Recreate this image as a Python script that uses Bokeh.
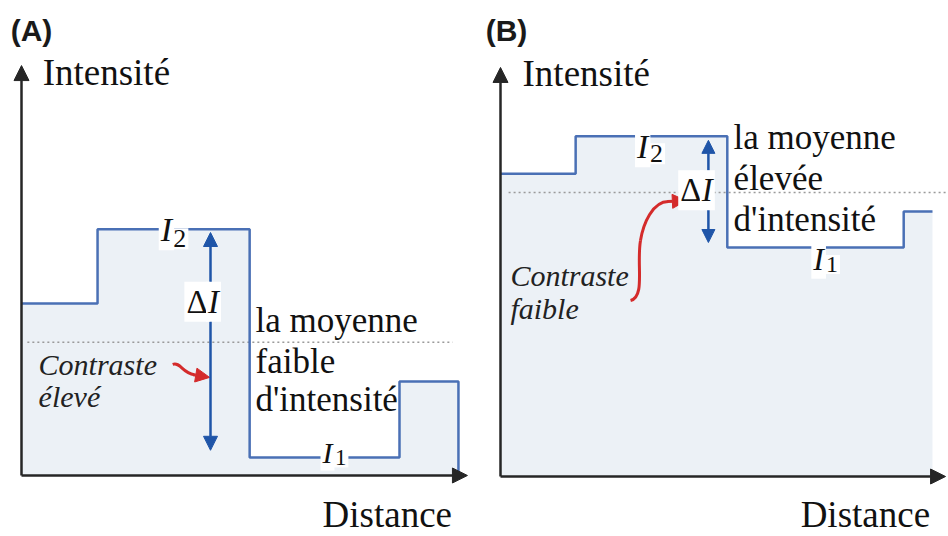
from bokeh.plotting import figure
from bokeh.models import Range1d, Label, Arrow, NormalHead
from bokeh.layouts import row
from bokeh.embed import file_html
from bokeh.resources import INLINE

# ---------------- data (intensity profiles, arbitrary units) ----------------
# Panel A : strong contrast, low mean intensity
a_edges = [0, 16.9, 50.7, 84.0, 97.1]     # distance where each plateau starts / ends
a_levels = [38.2, 54.7, 4.0, 20.9]        # intensity of each plateau
a_mean = 29.6                              # mean intensity (dotted line)
a_lines = ["la moyenne", "faible", "d'intensité"]
a_contrast = ["Contraste", "élevé"]

# Panel B : weak contrast, high mean intensity
b_edges = [0, 16.7, 50.4, 89.6, 96.0]
b_levels = [67.3, 75.6, 50.9, 58.9]
b_mean = 63.1
b_lines = ["la moyenne", "élevée", "d'intensité"]
b_contrast = ["Contraste", "faible"]

y_label = "Intensité"
x_label = "Distance"

# ---------------- styles ----------------
SERIF = "Liberation Serif"
SANS = "Liberation Sans"
FILL = "#ecf1f6"
STEP = "#4a70b5"
DBLUE = "#1f55a8"
RED = "#d42b2b"
AXIS = "#262626"
TXT = "#111111"


def lab(p, x, y, text, size, font=SERIF, style="normal", align="left",
        color=TXT, bg=None):
    kw = {}
    if bg is not None:
        kw = dict(background_fill_color=bg, padding=2)
    p.add_layout(Label(x=x, y=y, text=text, text_font=font,
                       text_font_size=f"{size}px", text_font_style=style,
                       text_align=align, text_baseline="middle",
                       text_color=color, **kw))


def base_panel(xr, yr, x_tip, y_tip):
    p = figure(width=474, height=536, output_backend="svg", toolbar_location=None,
               title=None, x_range=Range1d(*xr), y_range=Range1d(*yr),
               x_axis_location=None, y_axis_location=None, min_border=0)
    p.grid.visible = False
    p.outline_line_color = None
    p.background_fill_color = "white"
    p.border_fill_color = "white"
    # axes drawn as arrows starting from the origin
    p.add_layout(Arrow(x_start=0, y_start=0, x_end=0, y_end=y_tip,
                       line_color=AXIS, line_width=2.5,
                       end=NormalHead(size=15, fill_color=AXIS, line_color=AXIS)))
    p.add_layout(Arrow(x_start=0, y_start=0, x_end=x_tip, y_end=0,
                       line_color=AXIS, line_width=2.5,
                       end=NormalHead(size=15, fill_color=AXIS, line_color=AXIS)))
    return p


def profile(p, edges, levels, mean, mean_span, drop_to_axis):
    ext = list(levels) + [levels[-1]]
    p.varea_step(x=edges, y1=[0] * len(edges), y2=ext, step_mode="after",
                 fill_color=FILL)
    p.line(x=mean_span, y=[mean, mean], line_color="#9a9a9a", line_width=1.6,
           line_dash="2 3")
    xs = list(edges)
    ys = ext
    if drop_to_axis:
        xs = xs + [edges[-1]]
        ys = ys + [0]
    p.step(x=xs, y=ys, mode="after", line_color=STEP, line_width=2.5)


def sub_label(p, x, y, main, sub, size, sub_size, dx, ysub):
    lab(p, x, y, main, size, style="italic", align="center", bg="white")
    lab(p, x + dx, ysub, sub, sub_size, align="left", bg="white")


def delta_label(p, x, y, size):
    lab(p, x, y, "Δ", size, align="right", bg="white")
    lab(p, x - 0.8, y, "I", size, style="italic", align="left", bg="white")


# ---------------- Panel A ----------------
pA = base_panel((-4.667, 100.667), (-13.56, 105.56), 99.1, 91.1)
profile(pA, a_edges, a_levels, a_mean, [1.3, 95.8], True)
# red arrow (contraste élevé)
pA.bezier(x0=[33.6], y0=[24.7], x1=[38.4], y1=[22.4],
          cx0=[35.3], cy0=[25.3], cx1=[35.8], cy1=[22.7],
          line_color=RED, line_width=3)
pA.add_layout(Arrow(x_start=38.2, y_start=22.4, x_end=41.8, y_end=21.8,
                    line_color=RED, line_width=3,
                    end=NormalHead(size=14, fill_color=RED, line_color=RED)))
# delta-I double arrow
pA.add_layout(Arrow(x_start=42, y_start=5.6, x_end=42, y_end=54.0,
                    line_color=DBLUE, line_width=2.5,
                    start=NormalHead(size=14, fill_color=DBLUE, line_color=DBLUE),
                    end=NormalHead(size=14, fill_color=DBLUE, line_color=DBLUE)))
delta_label(pA, 41.8, 38.6, 33)
sub_label(pA, 32.2, 54.6, "I", "2", 34, 26, 1.1, 52.6)
sub_label(pA, 68.0, 5.2, "I", "1", 30, 23, 1.2, 3.9)
for i, t in enumerate(a_lines):
    lab(pA, 52, [34.4, 25.4, 16.8][i], t, 35)
for i, t in enumerate(a_contrast):
    lab(pA, 3.8, [24.7, 17.6][i], t, 30, style="italic", color="#222222")
lab(pA, 4.7, 89.6, y_label, 37)
lab(pA, 66.9, -8.7, x_label, 37)
lab(pA, -2.4, 98.9, "(A)", 30, font=SANS, style="bold", color="#1a1a1a")

# ---------------- Panel B ----------------
pB = base_panel((-5.778, 99.556), (-13.33, 105.78), 98.9, 90.9)
profile(pB, b_edges, b_levels, b_mean, [1.8, 99.6], False)
pB.bezier(x0=[28.9, 31.1], y0=[39.1, 52.4], x1=[31.1, 37.3], y1=[52.4, 61.1],
          cx0=[32.2, 31.7], cy0=[40.0, 56.2], cx1=[30.2, 33.8], cy1=[46.9, 61.1],
          line_color=RED, line_width=3)
pB.add_layout(Arrow(x_start=37.1, y_start=61.1, x_end=41.3, y_end=61.3,
                    line_color=RED, line_width=3,
                    end=NormalHead(size=14, fill_color=RED, line_color=RED)))
pB.add_layout(Arrow(x_start=46.2, y_start=68.0, x_end=46.2, y_end=74.7,
                    line_color=DBLUE, line_width=2.5,
                    end=NormalHead(size=13, fill_color=DBLUE, line_color=DBLUE)))
pB.add_layout(Arrow(x_start=46.2, y_start=59.6, x_end=46.2, y_end=52.0,
                    line_color=DBLUE, line_width=2.5,
                    end=NormalHead(size=13, fill_color=DBLUE, line_color=DBLUE)))
delta_label(pB, 45.1, 63.6, 33)
sub_label(pB, 31.6, 73.3, "I", "2", 34, 26, 1.2, 71.7)
sub_label(pB, 70.7, 48.4, "I", "1", 32, 24, 1.2, 47.1)
for i, t in enumerate(b_lines):
    lab(pB, 51.8, [75.4, 66.3, 57.2][i], t, 35)
for i, t in enumerate(b_contrast):
    lab(pB, 2.2, [44.7, 37.3][i], t, 30, style="italic", color="#222222")
lab(pB, 4.9, 89.6, y_label, 37)
lab(pB, 66.7, -8.5, x_label, 37)
lab(pB, -3.3, 99.1, "(B)", 30, font=SANS, style="bold", color="#1a1a1a")

layout = row(pA, pB)
open("out.html", "w").write(file_html(layout, INLINE))
